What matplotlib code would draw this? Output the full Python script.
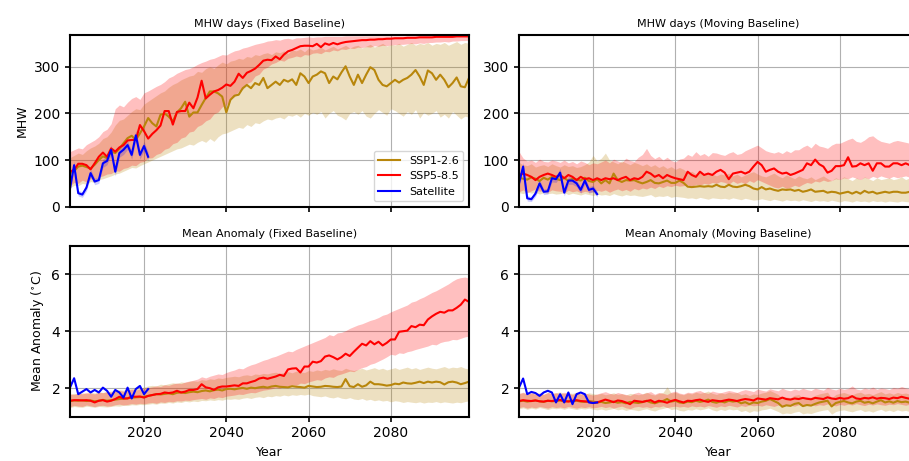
import numpy as np
import matplotlib
matplotlib.use("Agg")
import matplotlib.pyplot as plt

years = list(range(2002, 2100))
sat_years = list(range(2002, 2022))

# ---------------- MHW days (Fixed Baseline) ----------------
tl_ssp126 = [72, 76, 86, 88, 85, 82, 90, 100, 108, 104,
             118, 115, 124, 136, 147, 152, 143, 157, 172, 190,
             179, 172, 197, 200, 193, 183, 202, 211, 225, 193,
             202, 202, 218, 233, 247, 247, 243, 236, 202, 229,
             238, 240, 254, 261, 254, 265, 261, 276, 254, 261,
             268, 261, 272, 268, 273, 261, 286, 279, 265, 279,
             283, 290, 286, 265, 279, 273, 288, 301, 279, 261,
             283, 265, 283, 299, 293, 272, 261, 258, 265, 272,
             266, 272, 276, 283, 293, 279, 261, 292, 286, 272,
             283, 272, 256, 265, 277, 258, 256, 276]
tl_126_lo = [40, 46, 45, 50, 48, 54, 52, 58, 60, 63,
             66, 70, 72, 76, 80, 84, 83, 88, 92, 96,
             100, 104, 108, 112, 116, 120, 124, 126, 130, 134,
             132, 138, 142, 138, 146, 140, 150, 156, 158, 162,
             166, 170, 168, 176, 172, 180, 178, 184, 188, 186,
             190, 192, 188, 196, 194, 198, 192, 200, 196, 202,
             198, 204, 190, 200, 206, 196, 192, 186, 200, 204,
             198, 206, 194, 190, 200, 208, 202, 196, 210, 206,
             200, 194, 204, 198, 208, 190, 202, 196, 200, 206,
             192, 198, 190, 204, 196, 188, 194, 192]
tl_126_hi = [105, 110, 115, 112, 120, 126, 130, 136, 146, 150,
             160, 175, 185, 188, 196, 204, 210, 208, 220, 226,
             232, 238, 244, 248, 256, 262, 266, 272, 276, 280,
             282, 290, 288, 296, 300, 296, 304, 310, 306, 312,
             314, 318, 316, 322, 320, 326, 324, 328, 330, 326,
             332, 330, 334, 328, 336, 334, 338, 332, 340, 336,
             338, 342, 336, 340, 344, 338, 342, 346, 340, 344,
             346, 340, 344, 348, 342, 346, 350, 344, 348, 346,
             350, 344, 348, 352, 346, 350, 348, 352, 346, 350,
             348, 352, 346, 350, 354, 348, 352, 350]
tl_ssp585 = [75, 79, 92, 92, 89, 80, 93, 107, 116, 107,
             125, 118, 127, 132, 142, 143, 143, 175, 162, 146,
             156, 164, 174, 205, 205, 176, 203, 205, 205, 223,
             211, 234, 270, 232, 240, 247, 250, 255, 262, 259,
             268, 285, 276, 287, 291, 296, 304, 313, 315, 314,
             322, 316, 326, 333, 336, 340, 344, 345, 345, 344,
             349, 342, 350, 347, 351, 348, 351, 353, 354, 355,
             356, 357, 357, 358, 358, 359, 359, 360, 360, 361,
             361, 361, 362, 362, 362, 363, 363, 363, 363, 364,
             364, 364, 364, 364, 365, 365, 365, 365]
tl_585_lo = [45, 52, 50, 57, 53, 60, 58, 64, 66, 70,
             71, 77, 76, 82, 84, 89, 88, 95, 97, 104,
             105, 112, 115, 123, 126, 135, 138, 147, 150, 160,
             162, 172, 176, 184, 188, 199, 203, 214, 218, 230,
             236, 248, 252, 264, 268, 280, 284, 295, 299, 306,
             309, 314, 312, 318, 320, 323, 321, 326, 325, 329,
             330, 328, 333, 332, 336, 334, 338, 337, 340, 339,
             342, 341, 343, 342, 345, 344, 346, 345, 347, 347,
             348, 348, 349, 350, 349, 351, 350, 352, 352, 353,
             353, 354, 353, 355, 355, 356, 356, 357]
tl_585_hi = [118, 122, 126, 124, 133, 138, 143, 150, 161, 166,
             178, 210, 218, 214, 224, 232, 236, 230, 244, 248,
             253, 258, 262, 268, 276, 280, 286, 290, 294, 296,
             300, 305, 309, 312, 316, 318, 322, 326, 325, 330,
             334, 336, 340, 342, 345, 348, 350, 352, 355, 356,
             358, 357, 360, 361, 359, 362, 362, 363, 364, 363,
             364, 364, 365, 365, 365, 365, 365, 366, 366, 366,
             366, 366, 366, 366, 366, 366, 366, 366, 366, 366,
             366, 366, 366, 366, 366, 366, 366, 366, 366, 366,
             366, 366, 366, 366, 366, 366, 366, 366]
sat_tl = [39, 89, 29, 26, 41, 72, 54, 57, 93, 98,
          122, 75, 115, 122, 132, 111, 153, 111, 130, 107]
sat_tl_spread = [8, 9, 6, 6, 7, 8, 7, 7, 9, 8, 10, 9, 9, 10, 9, 9, 11, 9, 10, 9]

# ---------------- MHW days (Moving Baseline) ----------------
tr_ssp126 = [62, 60, 58, 63, 60, 55, 62, 58, 64, 60,
             57, 62, 55, 60, 58, 56, 62, 55, 53, 59,
             50, 57, 50, 71, 57, 53, 57, 56, 57, 53,
             50, 53, 57, 51, 50, 53, 56, 51, 51, 56,
             51, 43, 42, 43, 44, 43, 44, 43, 47, 43,
             42, 47, 43, 42, 44, 47, 44, 39, 37, 42,
             37, 39, 36, 34, 37, 36, 37, 34, 36, 32,
             34, 37, 32, 33, 34, 30, 32, 31, 28, 30,
             32, 28, 32, 28, 34, 30, 32, 28, 30, 32,
             30, 32, 32, 30, 30, 32, 27, 30]
tr_126_lo = [30, 28, 32, 29, 31, 27, 30, 28, 29, 27,
             28, 30, 26, 29, 27, 25, 28, 26, 24, 27,
             25, 26, 24, 28, 25, 23, 26, 24, 25, 23,
             22, 24, 26, 21, 23, 22, 24, 20, 22, 21,
             20, 18, 19, 17, 20, 18, 16, 19, 18, 17,
             18, 16, 19, 17, 15, 18, 16, 14, 15, 17,
             15, 13, 16, 14, 12, 15, 13, 14, 12, 15,
             13, 11, 14, 12, 13, 11, 14, 12, 10, 13,
             12, 10, 13, 11, 12, 10, 13, 11, 12, 10,
             12, 11, 10, 12, 11, 10, 12, 11]
tr_126_hi = [95, 90, 88, 92, 85, 88, 90, 86, 92, 88,
             85, 90, 86, 88, 84, 86, 90, 96, 110, 98,
             104, 115, 100, 96, 92, 98, 94, 90, 95, 92,
             88, 92, 86, 90, 84, 88, 82, 86, 80, 84,
             80, 72, 76, 70, 74, 68, 72, 70, 66, 70,
             68, 72, 66, 70, 64, 68, 72, 75, 70, 66,
             64, 68, 72, 66, 62, 68, 64, 60, 66, 62,
             60, 64, 58, 62, 66, 60, 56, 62, 58, 64,
             60, 56, 62, 58, 64, 60, 56, 62, 58, 60,
             62, 58, 60, 64, 58, 62, 60, 58]
tr_ssp585 = [68, 71, 68, 64, 57, 64, 68, 71, 68, 64,
             68, 61, 68, 64, 57, 64, 59, 61, 57, 61,
             57, 61, 59, 61, 57, 61, 64, 57, 61, 59,
             64, 75, 71, 64, 68, 61, 68, 64, 61, 59,
             57, 75, 68, 64, 75, 68, 71, 68, 75, 79,
             73, 59, 71, 73, 75, 71, 75, 86, 96, 89,
             75, 79, 82, 75, 71, 73, 68, 71, 75, 79,
             93, 89, 101, 91, 86, 73, 77, 87, 87, 89,
             106, 86, 87, 93, 89, 93, 77, 93, 93, 86,
             86, 93, 93, 89, 93, 89, 93, 96]
tr_585_lo = [32, 36, 30, 34, 38, 33, 35, 31, 36, 34,
             33, 30, 35, 32, 34, 30, 33, 31, 32, 35,
             33, 36, 31, 35, 38, 34, 37, 33, 39, 36,
             40, 38, 42, 39, 44, 41, 45, 43, 46, 44,
             45, 47, 44, 48, 46, 50, 48, 52, 50, 54,
             52, 48, 55, 50, 53, 49, 56, 52, 58, 54,
             50, 46, 42, 40, 44, 39, 42, 46, 43, 48,
             52, 50, 55, 53, 57, 54, 56, 60, 58, 62,
             60, 64, 61, 58, 63, 60, 65, 62, 66, 63,
             61, 65, 62, 64, 66, 63, 65, 64]
tr_585_hi = [118, 104, 98, 100, 95, 102, 97, 96, 100, 98,
             95, 100, 94, 97, 92, 98, 95, 90, 94, 92,
             96, 100, 94, 102, 98, 95, 104, 99, 97, 106,
             112, 125, 110, 103, 108, 100, 106, 99, 96, 102,
             104, 112, 108, 118, 110, 114, 108, 116, 115, 112,
             110, 115, 118, 112, 114, 120, 124, 128, 132, 126,
             120, 117, 115, 118, 114, 120, 116, 122, 122, 128,
             132, 126, 136, 130, 128, 125, 132, 136, 136, 140,
             144, 147, 140, 138, 143, 150, 152, 145, 140, 138,
             136, 140, 142, 140, 138, 136, 140, 138]
sat_tr = [50, 86, 18, 16, 28, 50, 32, 33, 61, 59,
          73, 30, 56, 56, 50, 36, 56, 36, 39, 27]
sat_tr_spread = [7, 9, 6, 5, 6, 8, 6, 6, 8, 7, 9, 7, 8, 8, 7, 7, 8, 7, 7, 6]

# ---------------- Mean Anomaly (Fixed Baseline) ----------------
bl_ssp126 = [1.55, 1.57, 1.56, 1.58, 1.55, 1.57, 1.54, 1.56, 1.59, 1.56,
             1.58, 1.60, 1.62, 1.63, 1.65, 1.66, 1.68, 1.69, 1.70, 1.73,
             1.76, 1.79, 1.78, 1.80, 1.82, 1.79, 1.84, 1.85, 1.83, 1.86,
             1.88, 1.86, 1.90, 1.92, 1.89, 1.93, 1.95, 1.92, 1.97, 1.98,
             1.96, 1.99, 2.01, 1.98, 2.02, 2.00, 2.03, 2.05, 2.02, 2.06,
             2.08, 2.05, 2.04, 2.03, 2.07, 2.05, 2.04, 2.02, 2.08, 2.06,
             2.04, 2.05, 2.08, 2.07, 2.05, 2.04, 2.06, 2.32, 2.07, 2.04,
             2.14, 2.05, 2.10, 2.23, 2.14, 2.14, 2.12, 2.09, 2.11, 2.16,
             2.14, 2.20, 2.17, 2.16, 2.19, 2.23, 2.18, 2.23, 2.20, 2.23,
             2.21, 2.13, 2.21, 2.23, 2.20, 2.14, 2.18, 2.23]
bl_126_lo = [1.32, 1.36, 1.34, 1.33, 1.37, 1.35, 1.33, 1.36, 1.35, 1.34,
             1.36, 1.38, 1.37, 1.40, 1.39, 1.42, 1.41, 1.43, 1.42, 1.44,
             1.46, 1.44, 1.48, 1.47, 1.50, 1.48, 1.52, 1.50, 1.54, 1.52,
             1.55, 1.53, 1.57, 1.56, 1.59, 1.57, 1.60, 1.58, 1.62, 1.61,
             1.63, 1.61, 1.65, 1.67, 1.64, 1.68, 1.70, 1.67, 1.72, 1.70,
             1.74, 1.72, 1.76, 1.73, 1.77, 1.75, 1.78, 1.76, 1.79, 1.74,
             1.72, 1.70, 1.73, 1.68, 1.66, 1.70, 1.65, 1.63, 1.67, 1.62,
             1.60, 1.64, 1.58, 1.61, 1.56, 1.59, 1.55, 1.57, 1.52, 1.56,
             1.54, 1.50, 1.53, 1.51, 1.49, 1.52, 1.48, 1.51, 1.50, 1.53,
             1.49, 1.52, 1.50, 1.48, 1.51, 1.49, 1.53, 1.56]
bl_126_hi = [1.78, 1.82, 1.80, 1.84, 1.81, 1.86, 1.83, 1.87, 1.85, 1.88,
             1.90, 1.92, 1.95, 1.93, 1.97, 1.99, 2.02, 2.00, 2.04, 2.08,
             2.10, 2.08, 2.14, 2.12, 2.16, 2.19, 2.17, 2.22, 2.20, 2.24,
             2.26, 2.24, 2.30, 2.28, 2.33, 2.31, 2.36, 2.34, 2.38, 2.40,
             2.42, 2.40, 2.45, 2.47, 2.44, 2.50, 2.48, 2.52, 2.50, 2.54,
             2.56, 2.52, 2.55, 2.58, 2.54, 2.60, 2.57, 2.55, 2.62, 2.59,
             2.64, 2.61, 2.66, 2.63, 2.68, 2.64, 2.62, 2.70, 2.65, 2.62,
             2.66, 2.70, 2.64, 2.68, 2.72, 2.66, 2.70, 2.64, 2.68, 2.72,
             2.66, 2.70, 2.74, 2.68, 2.72, 2.66, 2.70, 2.74, 2.70, 2.68,
             2.72, 2.76, 2.70, 2.74, 2.72, 2.76, 2.70, 2.68]
bl_ssp585 = [1.56, 1.58, 1.58, 1.57, 1.58, 1.56, 1.50, 1.56, 1.58, 1.53,
             1.56, 1.62, 1.70, 1.64, 1.64, 1.71, 1.70, 1.71, 1.67, 1.73,
             1.76, 1.79, 1.80, 1.85, 1.83, 1.85, 1.91, 1.85, 1.88, 1.94,
             1.94, 1.97, 2.14, 2.03, 2.00, 1.94, 2.03, 2.06, 2.06, 2.08,
             2.10, 2.08, 2.17, 2.17, 2.22, 2.26, 2.34, 2.37, 2.33, 2.37,
             2.41, 2.47, 2.43, 2.66, 2.69, 2.70, 2.55, 2.76, 2.76, 2.93,
             2.90, 2.95, 3.11, 3.15, 3.09, 3.01, 3.09, 3.21, 3.13, 3.28,
             3.42, 3.56, 3.50, 3.65, 3.54, 3.63, 3.50, 3.59, 3.71, 3.71,
             3.98, 4.00, 4.02, 4.18, 4.14, 4.23, 4.21, 4.41, 4.52, 4.61,
             4.68, 4.65, 4.73, 4.73, 4.82, 4.93, 5.11, 5.03]
bl_585_lo = [1.35, 1.40, 1.37, 1.36, 1.41, 1.38, 1.35, 1.39, 1.40, 1.37,
             1.38, 1.42, 1.44, 1.41, 1.43, 1.46, 1.44, 1.47, 1.45, 1.48,
             1.50, 1.47, 1.52, 1.50, 1.54, 1.52, 1.56, 1.55, 1.58, 1.57,
             1.60, 1.62, 1.64, 1.61, 1.66, 1.64, 1.69, 1.67, 1.72, 1.74,
             1.76, 1.79, 1.78, 1.82, 1.85, 1.84, 1.89, 1.93, 1.95, 1.98,
             2.02, 2.00, 2.06, 2.08, 2.12, 2.10, 2.18, 2.16, 2.22, 2.26,
             2.30, 2.28, 2.36, 2.40, 2.38, 2.46, 2.50, 2.55, 2.60, 2.58,
             2.66, 2.72, 2.76, 2.84, 2.88, 2.95, 3.02, 3.10, 3.19, 3.16,
             3.24, 3.22, 3.28, 3.31, 3.36, 3.40, 3.44, 3.48, 3.54, 3.52,
             3.60, 3.64, 3.66, 3.71, 3.70, 3.75, 3.80, 3.83]
bl_585_hi = [1.80, 1.78, 1.83, 1.80, 1.85, 1.82, 1.80, 1.86, 1.84, 1.88,
             1.86, 1.90, 1.92, 1.89, 1.94, 1.96, 1.93, 1.98, 2.00, 2.02,
             2.05, 2.08, 2.06, 2.12, 2.10, 2.15, 2.18, 2.16, 2.22, 2.25,
             2.28, 2.32, 2.40, 2.36, 2.42, 2.46, 2.50, 2.48, 2.55, 2.60,
             2.64, 2.70, 2.68, 2.76, 2.82, 2.86, 2.92, 2.98, 3.02, 3.08,
             3.12, 3.18, 3.24, 3.30, 3.28, 3.36, 3.42, 3.48, 3.54, 3.60,
             3.66, 3.72, 3.78, 3.88, 3.84, 3.94, 3.96, 4.02, 4.10, 4.16,
             4.22, 4.26, 4.32, 4.38, 4.42, 4.48, 4.56, 4.60, 4.68, 4.74,
             4.80, 4.86, 4.92, 5.02, 5.06, 5.14, 5.20, 5.28, 5.36, 5.42,
             5.50, 5.58, 5.66, 5.76, 5.84, 5.88, 5.90, 5.86]
sat_bl = [2.02, 2.35, 1.79, 1.88, 1.97, 1.85, 1.94, 1.85, 2.02, 1.91,
          1.70, 1.94, 1.85, 1.67, 2.02, 1.64, 1.97, 2.08, 1.79, 1.97]

# ---------------- Mean Anomaly (Moving Baseline) ----------------
br_ssp126 = [1.54, 1.56, 1.53, 1.55, 1.57, 1.54, 1.52, 1.56, 1.54, 1.55,
             1.57, 1.53, 1.55, 1.54, 1.56, 1.53, 1.52, 1.55, 1.53, 1.50,
             1.52, 1.48, 1.50, 1.53, 1.49, 1.51, 1.47, 1.52, 1.50, 1.48,
             1.51, 1.56, 1.50, 1.47, 1.52, 1.55, 1.62, 1.53, 1.56, 1.50,
             1.48, 1.53, 1.51, 1.56, 1.52, 1.55, 1.60, 1.52, 1.49, 1.54,
             1.50, 1.56, 1.53, 1.55, 1.47, 1.51, 1.44, 1.50, 1.48, 1.53,
             1.56, 1.62, 1.55, 1.48, 1.35, 1.40, 1.38, 1.45, 1.48, 1.37,
             1.41, 1.39, 1.45, 1.50, 1.53, 1.56, 1.36, 1.48, 1.52, 1.55,
             1.50, 1.47, 1.53, 1.56, 1.49, 1.52, 1.47, 1.53, 1.58, 1.50,
             1.54, 1.49, 1.55, 1.51, 1.53, 1.49, 1.50, 1.47]
br_126_lo = [1.28, 1.31, 1.26, 1.30, 1.27, 1.32, 1.29, 1.25, 1.30, 1.28,
             1.30, 1.26, 1.31, 1.28, 1.25, 1.29, 1.27, 1.30, 1.26, 1.24,
             1.27, 1.23, 1.26, 1.29, 1.24, 1.27, 1.22, 1.26, 1.24, 1.21,
             1.25, 1.28, 1.23, 1.20, 1.26, 1.29, 1.33, 1.25, 1.28, 1.22,
             1.20, 1.25, 1.23, 1.28, 1.24, 1.27, 1.31, 1.24, 1.20, 1.26,
             1.22, 1.27, 1.24, 1.26, 1.18, 1.22, 1.15, 1.21, 1.19, 1.24,
             1.26, 1.30, 1.24, 1.18, 1.10, 1.13, 1.11, 1.16, 1.19, 1.10,
             1.13, 1.11, 1.16, 1.20, 1.23, 1.25, 1.09, 1.18, 1.22, 1.24,
             1.20, 1.17, 1.22, 1.25, 1.18, 1.21, 1.16, 1.22, 1.26, 1.19,
             1.23, 1.18, 1.24, 1.20, 1.22, 1.18, 1.19, 1.16]
br_126_hi = [1.80, 1.84, 1.79, 1.83, 1.86, 1.81, 1.78, 1.85, 1.82, 1.84,
             1.87, 1.81, 1.84, 1.82, 1.86, 1.80, 1.79, 1.84, 1.81, 1.78,
             1.82, 1.77, 1.80, 1.84, 1.78, 1.81, 1.76, 1.82, 1.80, 1.77,
             1.80, 1.86, 1.79, 1.76, 1.82, 1.85, 2.05, 1.83, 1.86, 1.80,
             1.77, 1.83, 1.80, 1.86, 1.82, 1.85, 1.90, 1.82, 1.78, 1.84,
             1.80, 1.86, 1.83, 1.85, 1.77, 1.81, 1.74, 1.80, 1.78, 1.83,
             1.86, 1.92, 1.85, 1.78, 1.64, 1.69, 1.67, 1.75, 1.78, 1.66,
             1.70, 1.68, 1.75, 1.80, 1.83, 1.86, 1.65, 1.78, 1.82, 1.85,
             1.80, 1.77, 1.83, 1.86, 1.79, 1.82, 1.77, 1.83, 1.88, 1.80,
             1.84, 1.79, 1.85, 1.81, 1.83, 1.79, 1.80, 1.77]
br_ssp585 = [1.55, 1.58, 1.56, 1.55, 1.57, 1.54, 1.53, 1.56, 1.55, 1.57,
             1.59, 1.55, 1.53, 1.56, 1.58, 1.55, 1.54, 1.52, 1.48, 1.50,
             1.55, 1.60, 1.56, 1.51, 1.57, 1.55, 1.50, 1.44, 1.56, 1.54,
             1.52, 1.55, 1.58, 1.50, 1.56, 1.53, 1.49, 1.55, 1.59, 1.54,
             1.50, 1.56, 1.55, 1.58, 1.60, 1.55, 1.52, 1.58, 1.56, 1.54,
             1.57, 1.60, 1.58, 1.55, 1.59, 1.62, 1.60, 1.57, 1.64, 1.62,
             1.60, 1.65, 1.63, 1.61, 1.67, 1.62, 1.60, 1.64, 1.62, 1.66,
             1.63, 1.61, 1.66, 1.64, 1.62, 1.68, 1.64, 1.62, 1.66, 1.63,
             1.65, 1.72, 1.64, 1.62, 1.66, 1.64, 1.68, 1.63, 1.66, 1.65,
             1.62, 1.67, 1.65, 1.70, 1.66, 1.63, 1.62, 1.60]
br_585_lo = [1.32, 1.35, 1.30, 1.34, 1.31, 1.36, 1.33, 1.30, 1.35, 1.32,
             1.34, 1.31, 1.36, 1.33, 1.30, 1.34, 1.32, 1.35, 1.31, 1.33,
             1.36, 1.32, 1.35, 1.30, 1.34, 1.37, 1.31, 1.28, 1.34, 1.36,
             1.33, 1.35, 1.31, 1.36, 1.34, 1.38, 1.32, 1.35, 1.37, 1.34,
             1.36, 1.33, 1.38, 1.35, 1.37, 1.34, 1.39, 1.36, 1.33, 1.38,
             1.35, 1.40, 1.37, 1.34, 1.39, 1.36, 1.41, 1.38, 1.40, 1.37,
             1.42, 1.39, 1.36, 1.41, 1.38, 1.43, 1.40, 1.37, 1.42, 1.39,
             1.41, 1.44, 1.38, 1.42, 1.40, 1.45, 1.41, 1.38, 1.43, 1.40,
             1.44, 1.41, 1.46, 1.42, 1.39, 1.44, 1.41, 1.45, 1.42, 1.40,
             1.44, 1.42, 1.46, 1.43, 1.40, 1.44, 1.41, 1.39]
br_585_hi = [1.82, 1.86, 1.80, 1.84, 1.78, 1.83, 1.79, 1.85, 1.81, 1.84,
             1.80, 1.86, 1.82, 1.78, 1.84, 1.80, 1.83, 1.79, 1.76, 1.80,
             1.84, 1.88, 1.82, 1.79, 1.85, 1.81, 1.78, 1.74, 1.82, 1.86,
             1.80, 1.84, 1.88, 1.79, 1.85, 1.82, 1.78, 1.86, 1.90, 1.83,
             1.80, 1.86, 1.84, 1.89, 1.92, 1.85, 1.82, 1.90, 1.86, 1.84,
             1.88, 1.92, 1.89, 1.85, 1.91, 1.95, 1.92, 1.88, 1.97, 1.93,
             1.90, 1.98, 1.94, 1.91, 2.00, 1.94, 1.91, 1.97, 1.93, 2.00,
             1.95, 1.92, 2.00, 1.96, 1.93, 2.03, 1.97, 1.94, 2.00, 1.96,
             1.99, 2.08, 1.97, 1.94, 2.01, 1.97, 2.04, 1.96, 2.01, 1.99,
             1.95, 2.03, 2.00, 2.06, 2.01, 1.97, 1.96, 1.93]
sat_br = [2.02, 2.34, 1.79, 1.87, 1.83, 1.73, 1.85, 1.91, 1.85, 1.50,
          1.79, 1.50, 1.85, 1.44, 1.79, 1.85, 1.79, 1.50, 1.48, 1.50]

titles = ["MHW days (Fixed Baseline)", "MHW days (Moving Baseline)",
          "Mean Anomaly (Fixed Baseline)", "Mean Anomaly (Moving Baseline)"]
labels = ["SSP1-2.6", "SSP5-8.5", "Satellite"]

GOLD = "#b8860b"
RED = "#ff0000"
BLUE = "#0000ff"

fig = plt.figure(figsize=(9.09, 4.61), dpi=100)
W, H = 909.0, 461.0
aw = 399.0 / W
top_b, top_h = (H - 206.7) / H, 171.7 / H
bot_b, bot_h = (H - 416.7) / H, 171.0 / H
ax_tl = fig.add_axes([70 / W, top_b, aw, top_h])
ax_tr = fig.add_axes([519 / W, top_b, aw, top_h])
ax_bl = fig.add_axes([70 / W, bot_b, aw, bot_h])
ax_br = fig.add_axes([519 / W, bot_b, aw, bot_h])

panels = [
    (ax_tl, tl_ssp126, tl_126_lo, tl_126_hi, tl_ssp585, tl_585_lo, tl_585_hi, sat_tl, sat_tl_spread),
    (ax_tr, tr_ssp126, tr_126_lo, tr_126_hi, tr_ssp585, tr_585_lo, tr_585_hi, sat_tr, sat_tr_spread),
    (ax_bl, bl_ssp126, bl_126_lo, bl_126_hi, bl_ssp585, bl_585_lo, bl_585_hi, sat_bl, None),
    (ax_br, br_ssp126, br_126_lo, br_126_hi, br_ssp585, br_585_lo, br_585_hi, sat_br, None),
]

for i, (ax, g, glo, ghi, r, rlo, rhi, s, ss) in enumerate(panels):
    ax.fill_between(years, glo, ghi, color=GOLD, alpha=0.25, linewidth=0)
    ax.fill_between(years, rlo, rhi, color=RED, alpha=0.25, linewidth=0)
    if ss is not None:
        s_arr = np.array(s, dtype=float)
        ss_arr = np.array(ss, dtype=float)
        ax.fill_between(sat_years, s_arr - ss_arr, s_arr + ss_arr, color=BLUE,
                        alpha=0.2, linewidth=0)
    ax.plot(years, g, color=GOLD, lw=1.5, label=labels[0])
    ax.plot(years, r, color=RED, lw=1.5, label=labels[1])
    ax.plot(sat_years, s, color=BLUE, lw=1.5, label=labels[2])
    ax.set_xlim(2002, 2099)
    ax.set_xticks([2020, 2040, 2060, 2080])
    ax.grid(True, color="#b0b0b0", lw=0.8)
    ax.set_axisbelow(True)
    ax.set_title(titles[i], fontsize=8)
    ax.tick_params(labelsize=10, width=1.2)
    for sp in ax.spines.values():
        sp.set_linewidth(1.5)
    if i < 2:
        ax.set_ylim(0, 368)
        ax.set_yticks([0, 100, 200, 300])
        ax.tick_params(labelbottom=False)
    else:
        ax.set_ylim(1, 7)
        ax.set_yticks([2, 4, 6])
        ax.set_xlabel("Year", fontsize=9)

ax_tl.set_ylabel("MHW", fontsize=9)
ax_bl.set_ylabel(r"Mean Anomaly ($^{\circ}$C)", fontsize=9)
ax_tl.legend(loc="lower right", fontsize=8)

fig.savefig("out.png", dpi=100)
